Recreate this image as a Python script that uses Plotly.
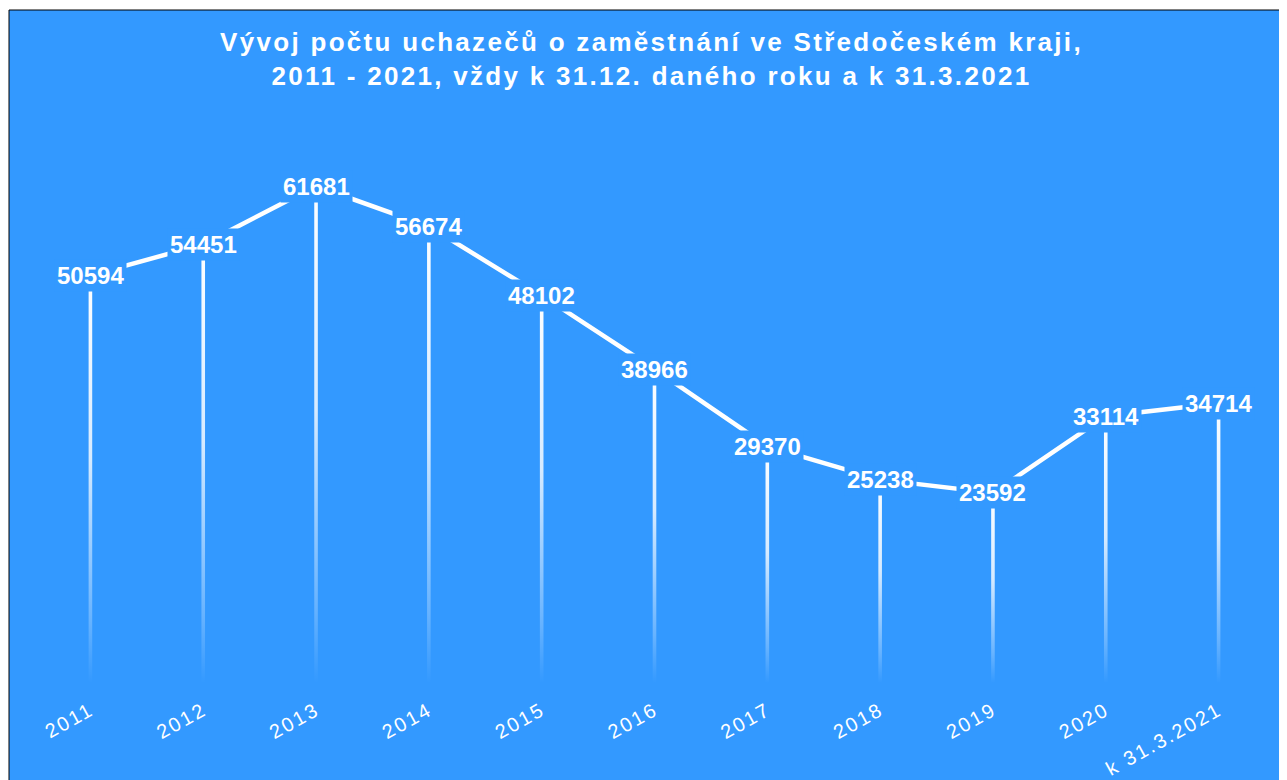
import plotly.graph_objects as go

categories = ["2011", "2012", "2013", "2014", "2015", "2016", "2017", "2018", "2019", "2020", "k 31.3.2021"]
values = [50594, 54451, 61681, 56674, 48102, 38966, 29370, 25238, 23592, 33114, 34714]
title_lines = [
    "Vývoj počtu uchazečů o zaměstnání ve Středočeském kraji,",
    "2011 - 2021, vždy k 31.12. daného roku a k 31.3.2021",
]

BLUE = "#3399FF"
FONT = "Liberation Sans, Arial, sans-serif"
W, H = 1287, 780
ML, MR, MT, MB = 26, 19.5, 111, 105
plot_w = W - ML - MR
plot_h = H - MT - MB

xs = list(range(len(categories)))
fig = go.Figure()

# gradient drop lines (thin filled polygons with vertical gradient)
half = 1.8 / (plot_w / len(categories))
grad = [[0, "rgba(255,255,255,0)"], [0.15, "rgba(255,255,255,0.25)"],
        [0.55, "rgba(255,255,255,0.8)"], [1, "rgba(255,255,255,1)"]]
for i, v in zip(xs, values):
    fig.add_trace(go.Scatter(
        x=[i - half, i + half, i + half, i - half, i - half],
        y=[0, 0, v, v, 0],
        mode="lines", line=dict(width=0),
        fill="toself",
        fillgradient=dict(type="vertical", colorscale=grad),
        hoverinfo="skip", showlegend=False))

fig.add_trace(go.Scatter(
    x=xs, y=values, mode="lines",
    line=dict(color="white", width=4.5),
    hoverinfo="skip", showlegend=False))

for i, v in zip(xs, values):
    fig.add_annotation(
        x=i, y=v, text=str(v), showarrow=False,
        font=dict(family=FONT, size=24, color="white", weight="bold"),
        bgcolor=BLUE, borderpad=2)

# blue background panel with black border (top/left visible)
fig.add_shape(
    type="rect", xref="paper", yref="paper", layer="below",
    x0=(1 - ML) / plot_w, x1=1.1,
    y0=-0.5, y1=(H - MB - 2) / plot_h,
    fillcolor=BLUE, line=dict(color="black", width=1))

fig.update_layout(
    width=W, height=H,
    margin=dict(l=ML, r=MR, t=MT, b=MB),
    paper_bgcolor="white",
    plot_bgcolor="rgba(0,0,0,0)",
    title=dict(
        text="<br>".join(title_lines),
        x=0.5, xanchor="center", xref="container",
        y=1 - 43 / H, yanchor="middle", yref="container",
        font=dict(family=FONT, size=26, color="white", weight="bold")),
    xaxis=dict(
        range=[-0.5, len(categories) - 0.5],
        tickmode="array", tickvals=xs, ticktext=categories,
        tickangle=-29, tickfont=dict(family=FONT, size=20, color="white"),
        ticks="outside", ticklen=7, tickcolor="rgba(0,0,0,0)",
        showgrid=False, zeroline=False, showline=False, fixedrange=True),
    yaxis=dict(range=[0, 70000], visible=False, fixedrange=True),
    showlegend=False,
)

post = """
var gd = document.getElementById('{plot_id}');
function ls(){
  gd.querySelectorAll('.gtitle').forEach(function(e){ e.style.letterSpacing='2.3px'; });
  gd.querySelectorAll('.xtick text').forEach(function(e){ e.style.letterSpacing='2.2px'; });
}
ls();
gd.on('plotly_afterplot', ls);
"""

fig.write_html("out.html", post_script=post, config={"displayModeBar": False})
